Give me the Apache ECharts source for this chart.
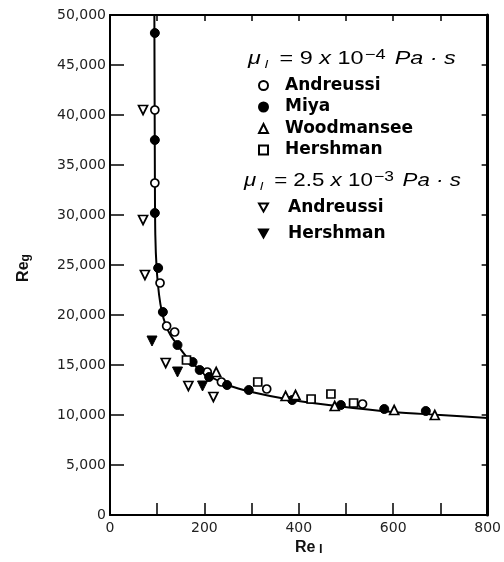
<!DOCTYPE html>
<html><head><meta charset="utf-8">
<script src="https://cdn.jsdelivr.net/npm/echarts@6/dist/echarts.min.js"></script>
<style>html,body{margin:0;padding:0;background:#fff}#c{width:504px;height:562px}</style>
</head><body><div id="c"></div>
<script>
// ---- data (Re_l, Re_g) ----
const andreussi1 = [[95,40500],[95,33200],[106,23200],[120,18900],[137,18300],[206,14300],[236,13300],[332,12600],[535,11100]];
const miya = [[95,48200],[95,37500],[95,30200],[102,24700],[112,20300],[143,17000],[175,15300],[190,14500],[210,13800],[248,13000],[294,12500],[386,11500],[489,11000],[581,10600],[669,10400]];
const woodmansee = [[225,14300],[372,11900],[393,12000],[476,10900],[602,10500],[688,10000]];
const hershman1 = [[162,15500],[313,13300],[426,11600],[468,12100],[516,11200]];
const andreussi2 = [[70,40500],[70,29500],[74,24000],[118,15200],[166,12900],[219,11800]];
const hershman2 = [[89,17400],[143,14300],[196,12900]];
const curve = [[94,50000],[95,35000],[96,28000],[99,24500],[104,22000],[110,20300],[118,19000],[128,18000],[143,17000],[168,15500],[200,14200],[250,13000],[300,12300],[385,11500],[480,10900],[600,10300],[700,10000],[800,9700]];
const xTicks = [0,200,400,600,800];
const yTicks = [0,5000,10000,15000,20000,25000,30000,35000,40000,45000,50000];

const downTri = 'path://M0,0 L10,0 L5,9 Z';
const openStyle = {color:'#fff', borderColor:'#000', borderWidth:1.7, opacity:1};
const fillStyle = {color:'#000', borderColor:'#000', borderWidth:1, opacity:1};
const LF = 'Liberation Sans, Arial, sans-serif';

const titleRich = {
  mu:{fontFamily:LF, fontStyle:'italic', fontSize:18, lineHeight:22, verticalAlign:'middle', fill:'#000'},
  sub:{fontFamily:LF, fontStyle:'italic', fontSize:11, lineHeight:22, verticalAlign:'bottom', padding:[0,9,0,3], fill:'#000'},
  n:{fontFamily:LF, fontSize:18, lineHeight:22, verticalAlign:'middle', fill:'#000'},
  it:{fontFamily:LF, fontStyle:'italic', fontSize:18, lineHeight:22, verticalAlign:'middle', fill:'#000'},
  sup:{fontFamily:LF, fontSize:14, lineHeight:14, verticalAlign:'top', padding:[0,7,0,1], fill:'#000'}
};

const chart = echarts.init(document.getElementById('c'));
const axisCommon = {
  type:'value', splitLine:{show:false},
  axisLine:{show:true, onZero:false, lineStyle:{color:'#000', width:2}},
};
chart.setOption({
  backgroundColor:'#fff',
  animation:false,
  grid:{left:110, right:13, top:15, bottom:47},
  xAxis:[
    Object.assign({}, axisCommon, {min:0, max:800, interval:100, position:'bottom',
      axisTick:{inside:true, length:12, lineStyle:{color:'#000', width:1.5}},
      axisLabel:{color:'#222', fontFamily:'DejaVu Sans', fontSize:14, margin:6,
        formatter: v => xTicks.indexOf(v) >= 0 ? String(v) : ''}}),
    Object.assign({}, axisCommon, {min:0, max:800, interval:100, position:'top',
      axisTick:{inside:true, length:6, lineStyle:{color:'#000', width:1.5}},
      axisLabel:{show:false}})
  ],
  yAxis:[
    Object.assign({}, axisCommon, {min:0, max:50000, interval:5000, position:'left',
      axisTick:{inside:true, length:14, lineStyle:{color:'#000', width:1.5}},
      axisLabel:{color:'#222', fontFamily:'DejaVu Sans', fontSize:14, margin:4,
        formatter: v => yTicks.indexOf(v) >= 0 ? v.toLocaleString('en-US') : ''}}),
    Object.assign({}, axisCommon, {min:0, max:50000, interval:5000, position:'right',
      axisTick:{inside:true, length:6, lineStyle:{color:'#000', width:1.5}},
      axisLabel:{show:false}, axisLine:{show:true, onZero:false, lineStyle:{color:'#000', width:3}}})
  ],
  legend:[
    {orient:'vertical', left:258, top:77, padding:0, itemGap:4.5, itemWidth:9, itemHeight:9,
     data:['Andreussi','Miya','Woodmansee','Hershman'],
     textStyle:{fontFamily:'DejaVu Sans', fontWeight:'bold', fontSize:17, lineHeight:16, color:'#000', padding:[0,0,0,12]}},
    {orient:'vertical', left:258, top:199, padding:0, itemGap:9, itemWidth:9, itemHeight:9,
     data:['Andreussi ','Hershman '],
     textStyle:{fontFamily:'DejaVu Sans', fontWeight:'bold', fontSize:17, lineHeight:16, color:'#000', padding:[0,0,0,15]}}
  ],
  graphic:[
    {type:'text', x:248, y:59, scaleX:1.3, style:{
      text:'{mu|μ}{sub|l}{n|= 9 }{it|x}{n| 10}{sup|−4}{it|Pa · s}', verticalAlign:'middle', rich:titleRich}},
    {type:'text', x:244, y:181, scaleX:1.24, style:{
      text:'{mu|μ}{sub|l}{n|= 2.5 }{it|x}{n| 10}{sup|−3}{it|Pa · s}', verticalAlign:'middle', rich:titleRich}},
    {type:'text', x:22, y:268, rotation:Math.PI/2, style:{
      text:'{b|Re}{s|g}', align:'center', verticalAlign:'middle',
      rich:{b:{fontFamily:LF, fontWeight:'bold', fontSize:16, lineHeight:20, verticalAlign:'bottom', fill:'#111'},
            s:{fontFamily:LF, fontWeight:'bold', fontSize:12, lineHeight:20, verticalAlign:'bottom', fill:'#111'}}}},
    {type:'text', left:295, top:540, style:{
      text:'{b|Re}{s| l}',
      rich:{b:{fontFamily:LF, fontWeight:'bold', fontSize:16, lineHeight:20, verticalAlign:'bottom', fill:'#111'},
            s:{fontFamily:LF, fontWeight:'bold', fontSize:13, lineHeight:28, verticalAlign:'bottom', fill:'#111'}}}}
  ],
  series:[
    {name:'curve', type:'line', data:curve, showSymbol:false, smooth:0.3, lineStyle:{color:'#000', width:2}, z:1},
    {name:'Andreussi', type:'scatter', data:andreussi1, symbol:'circle', symbolSize:8, itemStyle:openStyle, z:3},
    {name:'Miya', type:'scatter', data:miya, symbol:'circle', symbolSize:9, itemStyle:fillStyle, z:3},
    {name:'Woodmansee', type:'scatter', data:woodmansee, symbol:'triangle', symbolSize:9, itemStyle:openStyle, z:3},
    {name:'Hershman', type:'scatter', data:hershman1, symbol:'rect', symbolSize:8, itemStyle:openStyle, z:3},
    {name:'Andreussi ', type:'scatter', data:andreussi2, symbol:downTri, symbolSize:9, itemStyle:openStyle, z:3},
    {name:'Hershman ', type:'scatter', data:hershman2, symbol:downTri, symbolSize:10, itemStyle:fillStyle, z:3}
  ]
});
</script>
</body></html>
